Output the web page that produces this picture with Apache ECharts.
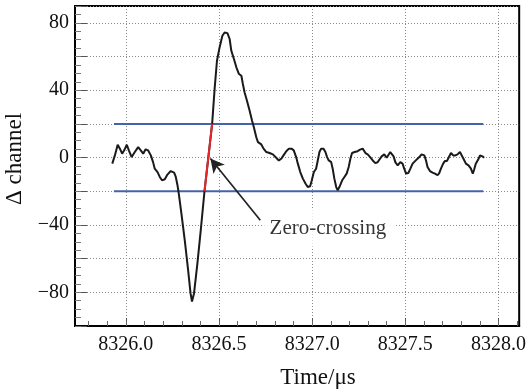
<!DOCTYPE html>
<html>
<head>
<meta charset="utf-8">
<script src="https://cdn.jsdelivr.net/npm/echarts/dist/echarts.min.js"></script>
<style>
  html, body { margin: 0; padding: 0; background: #fff; }
  #chart { width: 529px; height: 390px; }
</style>
</head>
<body>
<div id="chart"></div>
<script>
// Delta channel trace around the zero-crossing
const timeUs = [
  8325.927, 8325.941, 8325.956, 8325.968, 8325.980, 8325.991, 8326.005, 8326.016, 8326.031, 8326.048,
  8326.066, 8326.080, 8326.093, 8326.106, 8326.119, 8326.134, 8326.146, 8326.155, 8326.170, 8326.182,
  8326.194, 8326.209, 8326.223, 8326.241, 8326.259, 8326.268, 8326.277, 8326.284, 8326.298, 8326.316,
  8326.334, 8326.347, 8326.355, 8326.366, 8326.384, 8326.402, 8326.422, 8326.463, 8326.477, 8326.489,
  8326.503, 8326.518, 8326.530, 8326.545, 8326.557, 8326.566, 8326.580, 8326.593, 8326.607, 8326.620,
  8326.628, 8326.637, 8326.650, 8326.664, 8326.677, 8326.687, 8326.700, 8326.709, 8326.727, 8326.739,
  8326.754, 8326.771, 8326.789, 8326.807, 8326.821, 8326.834, 8326.846, 8326.861, 8326.875, 8326.889,
  8326.901, 8326.914, 8326.923, 8326.936, 8326.950, 8326.964, 8326.976, 8326.989, 8326.998, 8327.009,
  8327.021, 8327.030, 8327.039, 8327.048, 8327.061, 8327.071, 8327.080, 8327.089, 8327.102, 8327.110,
  8327.119, 8327.129, 8327.137, 8327.146, 8327.161, 8327.173, 8327.185, 8327.196, 8327.205, 8327.214,
  8327.228, 8327.244, 8327.257, 8327.271, 8327.286, 8327.298, 8327.311, 8327.325, 8327.339, 8327.351,
  8327.361, 8327.373, 8327.387, 8327.400, 8327.409, 8327.419, 8327.429, 8327.437, 8327.446, 8327.459,
  8327.473, 8327.485, 8327.494, 8327.504, 8327.516, 8327.527, 8327.539, 8327.552, 8327.562, 8327.575,
  8327.587, 8327.602, 8327.611, 8327.619, 8327.632, 8327.646, 8327.659, 8327.673, 8327.682, 8327.691,
  8327.703, 8327.712, 8327.723, 8327.734, 8327.745, 8327.757, 8327.768, 8327.780, 8327.793, 8327.803,
  8327.812, 8327.825, 8327.839, 8327.852, 8327.862, 8327.869, 8327.878, 8327.891, 8327.901, 8327.914,
  8327.923
];
const deltaCh = [
  -3.6, 1.3, 7.6, 5.3, 2.3, 4.3, 7.6, 4.3, 0.3, 3.3,
  6.2, 4.3, 2.3, 4.9, 4.3, 1.3, -2.7, -6.6, -8.6, -11.5,
  -13.5, -12.9, -10.1, -8.0, -8.9, -11.5, -16.4, -21.4, -33.2, -49.0,
  -66.7, -80.5, -85.5, -80.5, -62.8, -43.1, -20, 20, 41.7, 57.5,
  65.4, 72.3, 74.3, 73.9, 70.4, 63.4, 58.5, 53.6, 49.6, 48.6,
  43.7, 38.8, 33.8, 27.9, 22.0, 18.0, 12.1, 9.2, 7.8, 5.3,
  3.3, 2.7, 1.9, -0.1, -1.7, -0.7, 1.3, 3.8, 5.3, 5.3,
  4.3, 0.3, -3.6, -8.6, -12.5, -15.4, -17.5, -17.0, -13.5, -8.6,
  -6.6, -1.7, 3.3, 5.3, 5.3, 3.3, 0.3, -1.7, -2.7, -6.6,
  -12.5, -17.5, -19.4, -17.5, -13.5, -11.5, -9.5, -5.6, -0.7, 2.7,
  3.3, 3.8, 4.7, 5.3, 2.7, 1.9, 0.3, -1.7, -3.3, -2.8,
  -1.7, 0.7, 1.9, -0.1, 0.7, 3.3, 3.8, 0.7, -2.7, -4.6,
  -2.7, -3.6, -6.6, -9.5, -9.2, -6.6, -3.6, -2.1, -3.0, 0.3,
  1.9, 1.3, -1.7, -5.6, -8.0, -8.9, -9.5, -10.5, -9.2, -6.6,
  -3.6, -2.1, -2.1, 0.3, 2.7, 1.3, 1.3, 1.9, 3.3, 3.3,
  -0.7, -3.6, -4.6, -6.6, -9.5, -7.2, -3.6, -1.2, 1.3, 0.7,
  -0.1
];

// thresholds (+/-20) drawn over the trace span
const thresholdX = [8325.936, 8327.918];
const thresholdUp = [20, 20];
const thresholdDown = [-20, -20];

// red linear segment between the thresholds
const zeroCrossX = [8326.422, 8326.463];
const zeroCrossY = [-20, 20];

// annotation
const noteText = 'Zero-crossing';
const noteAt = [8326.739, -41.9];
const arrowFrom = [8326.7215, -37.2];
const arrowTo = [8326.4537, -0.5];

// axis ticks
const xLabelTicks = [8326.0, 8326.5, 8327.0, 8327.5, 8328.0];
const xMinorTicks = [
  8325.8, 8325.9, 8326.0, 8326.1, 8326.2, 8326.3, 8326.4, 8326.5, 8326.6, 8326.7, 8326.8,
  8326.9, 8327.0, 8327.1, 8327.2, 8327.3, 8327.4, 8327.5, 8327.6, 8327.7, 8327.8, 8327.9,
  8328.0, 8328.1
];

const FONT = '"Liberation Serif", "DejaVu Serif", serif';

const pairs = (xs, ys) => xs.map((x, i) => [x, ys[i]]);

const chart = echarts.init(document.getElementById('chart'), null, { renderer: 'canvas' });

const dotted = { color: '#8a8a8a', width: 1, type: [1, 2] };

chart.setOption({
  animation: false,
  backgroundColor: '#fff',
  grid: {
    left: 75, right: 9, top: 6, bottom: 64,
    show: true, borderColor: '#000', borderWidth: 2, backgroundColor: 'transparent'
  },
  xAxis: [
    {
      type: 'value',
      min: 8325.727, max: 8328.111,
      axisLine: { show: true, onZero: false, lineStyle: { color: '#000', width: 2 } },
      axisTick: { show: true, inside: true, length: 8, customValues: xLabelTicks, lineStyle: { color: '#555' } },
      axisLabel: {
        customValues: xLabelTicks, margin: 9,
        fontFamily: FONT, fontSize: 20, color: '#111',
        formatter: v => v.toFixed(1)
      },
      splitLine: { show: true, lineStyle: dotted }
    },
    {
      type: 'value',
      min: 8325.727, max: 8328.111,
      position: 'bottom',
      axisLine: { show: false, onZero: false },
      axisTick: { show: true, inside: true, length: 5, customValues: xMinorTicks, lineStyle: { color: '#666' } },
      axisLabel: { show: false },
      splitLine: { show: false }
    }
  ],
  yAxis: [
    {
      type: 'value',
      min: -100, max: 90, interval: 20,
      axisLine: { show: true, onZero: false, lineStyle: { color: '#000', width: 2 } },
      axisTick: { show: true, inside: true, length: 12, lineStyle: { color: '#555' } },
      axisLabel: {
        margin: 6, fontFamily: FONT, fontSize: 20, color: '#111',
        formatter: v => (v % 40 === 0 ? (v < 0 ? '\u2212' + (-v) : String(v)) : '')
      },
      splitLine: { show: true, lineStyle: dotted }
    },
    {
      type: 'value',
      min: -100, max: 90, interval: 5,
      position: 'left',
      axisLine: { show: false, onZero: false },
      axisTick: { show: true, inside: true, length: 6, lineStyle: { color: '#777' } },
      axisLabel: { show: false },
      splitLine: { show: false }
    }
  ],
  series: [
    {
      name: 'upper',
      type: 'line',
      data: pairs(thresholdX, thresholdUp),
      showSymbol: false,
      lineStyle: { color: '#4563aa', width: 2 },
      z: 3
    },
    {
      name: 'lower',
      type: 'line',
      data: pairs(thresholdX, thresholdDown),
      showSymbol: false,
      lineStyle: { color: '#4563aa', width: 2 },
      z: 3
    },
    {
      name: 'delta',
      type: 'line',
      data: pairs(timeUs, deltaCh),
      showSymbol: false,
      lineStyle: { color: '#1a1a1a', width: 2 },
      z: 4
    },
    {
      name: 'zero-crossing',
      type: 'line',
      data: pairs(zeroCrossX, zeroCrossY),
      showSymbol: false,
      lineStyle: { color: '#e5262b', width: 2 },
      z: 5
    },
    {
      name: 'note',
      type: 'scatter',
      data: [noteAt],
      symbolSize: 0,
      z: 6,
      label: {
        show: true, position: 'right', distance: 0,
        formatter: noteText,
        fontFamily: FONT, fontSize: 21, color: '#000',
        backgroundColor: '#fff', padding: [8, 10, 8, 6]
      },
      markLine: {
        silent: true,
        symbol: ['none', 'arrow'],
        symbolSize: [11, 14],
        label: { show: false },
        lineStyle: { color: '#222', width: 1.7, type: 'solid' },
        data: [[{ coord: arrowFrom }, { coord: arrowTo }]]
      }
    }
  ],
  graphic: [
    {
      type: 'text', x: 318, y: 378,
      style: {
        text: 'Time/\u03bcs', font: '23px ' + FONT, fill: '#111',
        textAlign: 'center', textVerticalAlign: 'middle', align: 'center', verticalAlign: 'middle'
      }
    },
    {
      type: 'text', x: 15, y: 159, rotation: Math.PI / 2,
      style: {
        text: '\u0394 channel', font: '23px ' + FONT, fill: '#111',
        textAlign: 'center', textVerticalAlign: 'middle', align: 'center', verticalAlign: 'middle'
      }
    }
  ]
});
</script>
</body>
</html>
